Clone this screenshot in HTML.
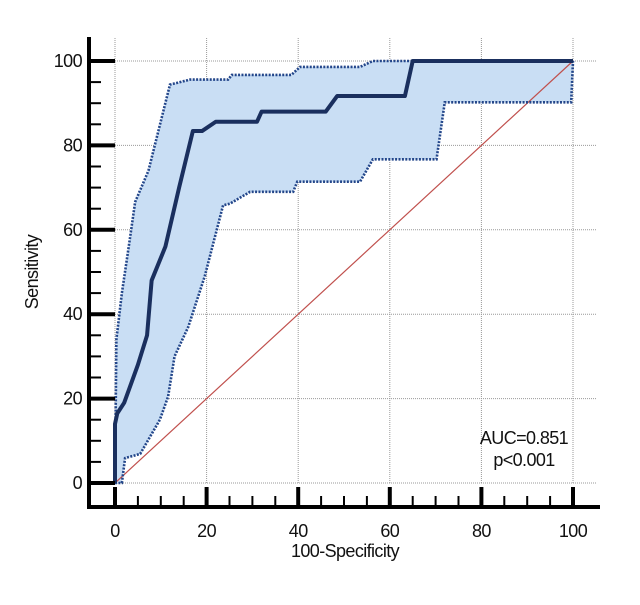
<!DOCTYPE html>
<html><head><meta charset="utf-8"><style>
body{margin:0;background:#fff}
svg text{font-family:"Liberation Sans Narrow","Liberation Sans",sans-serif;fill:#111;letter-spacing:-0.6px}
</style></head><body>
<svg width="640" height="600">
<g id="grid"></g>
<g id="ci"></g>
<g id="marks"></g>
<g id="axes"></g>
<text x="38" y="272" font-size="18" text-anchor="middle" transform="rotate(-90 38 272)">Sensitivity</text>
<text x="345" y="557" font-size="18" text-anchor="middle">100-Specificity</text>
<text x="524" y="444" font-size="18" text-anchor="middle">AUC=0.851</text>
<text x="524" y="466" font-size="18" text-anchor="middle">p&lt;0.001</text>
</svg>
<script>
const xTicks=[0,20,40,60,80,100];
const yTicks=[0,20,40,60,80,100];
const rocX=[0,0,0.5,2,5,7,8,11,14,17,19,22,31,32,46,48.5,63.3,65,100];
const rocY=[0,14,16.5,19,28,35,48,56,70,83.4,83.4,85.6,85.6,88,88,91.7,91.7,100,100];
const upX=[0,0.3,1.5,3,4.4,7.3,12,16.4,24.7,25.5,38.5,40.4,53.5,56.3,100,100];
const upY=[0,34,45,56,66.6,74,94.4,95.6,95.6,96.7,96.7,98.6,98.6,100,100,100];
const loX=[0,1.5,2.2,5.5,9.8,11.6,13,16,19.6,23.6,25.1,29.5,38.9,39.8,53.5,56.3,70.2,72,99.6,100];
const loY=[0,0,5.9,6.9,15,20.5,30,37,49,65.8,66.2,69,69,71.4,71.4,76.7,76.7,90.2,90.2,100];
const X=v=>115+v*4.58, Y=v=>483-v*4.22;
const NS='http://www.w3.org/2000/svg';
function mk(p,t,a){const e=document.createElementNS(NS,t);for(const k in a)e.setAttribute(k,a[k]);p.appendChild(e);return e;}
const grid=document.getElementById('grid'),ci=document.getElementById('ci'),marks=document.getElementById('marks'),axes=document.getElementById('axes');
xTicks.forEach(v=>{const l=mk(grid,'line',{x1:X(v),x2:X(v),y1:38,y2:Y(0),stroke:'#999','stroke-width':1,'stroke-dasharray':'1,1'});

});
yTicks.forEach(v=>{const l=mk(grid,'line',{x1:X(0),x2:597,y1:Y(v),y2:Y(v),stroke:'#999','stroke-width':1,'stroke-dasharray':'1,1'});

});
const pts=(xs,ys)=>xs.map((x,i)=>X(x)+','+Y(ys[i])).join(' ');
const band=mk(ci,'polygon',{points:pts(upX,upY)+' '+pts(loX.slice().reverse(),loY.slice().reverse()),fill:'#c9def4',stroke:'none'});


const diag=mk(marks,'line',{x1:X(0),y1:Y(0),x2:X(100),y2:Y(100),stroke:'#c0504d','stroke-width':1.2});


const up=mk(marks,'polyline',{points:pts(upX,upY),fill:'none',stroke:'#23468a','stroke-width':2.6,'stroke-dasharray':'2,1.4'});


const lo=mk(marks,'polyline',{points:pts(loX,loY),fill:'none',stroke:'#23468a','stroke-width':2.6,'stroke-dasharray':'2,1.4'});


const roc=mk(marks,'polyline',{points:pts(rocX,rocY),fill:'none',stroke:'#1a2f5e','stroke-width':4,'stroke-linejoin':'round'});


mk(axes,'line',{x1:89,x2:89,y1:37,y2:509,stroke:'#000','stroke-width':4});
mk(axes,'line',{x1:87,x2:600,y1:507,y2:507,stroke:'#000','stroke-width':4});
for(let v=0;v<=100;v+=5){const maj=v%20===0;
mk(axes,'line',{x1:89,x2:maj?115:101,y1:Y(v),y2:Y(v),stroke:'#000','stroke-width':maj?4:2});
mk(axes,'line',{x1:X(v),x2:X(v),y1:507,y2:maj?487:496,stroke:'#000','stroke-width':maj?4:2});}
yTicks.forEach(v=>{const t=mk(axes,'text',{x:82,y:Y(v)+6,'font-size':18,'text-anchor':'end'});t.textContent=v;

});
xTicks.forEach(v=>{const t=mk(axes,'text',{x:X(v),y:537,'font-size':18,'text-anchor':'middle'});t.textContent=v;

});
</script>
</body></html>
